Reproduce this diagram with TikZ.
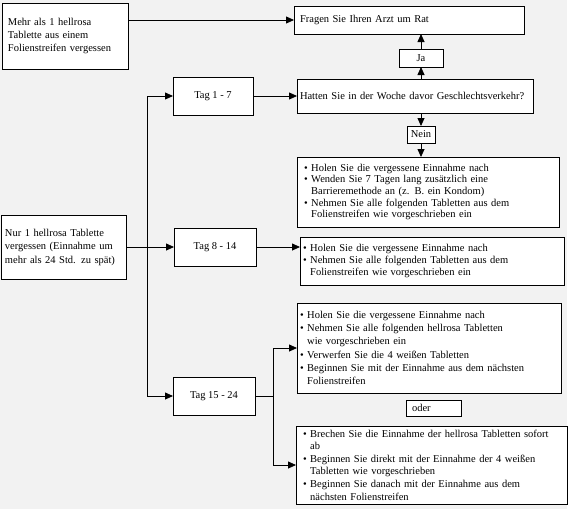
\documentclass[tikz,border=0pt]{standalone}
\usepackage{fontspec}
\setmainfont{Liberation Serif}
\usetikzlibrary{arrows.meta}
\definecolor{bggray}{HTML}{F2F2F2}
\newcommand{\dotitem}{\textbullet\ }
\newcommand{\dotcont}{\hphantom{\textbullet\ }}

\begin{document}
\begin{tikzpicture}[x=1pt, y=-1pt, line width=0.8pt,
	box/.style={draw, fill=white, inner sep=0pt, outer sep=0pt, font=\fontsize{10.5}{12}\selectfont},
	arr/.style={-{Triangle[length=8pt,width=7pt]}}]
	%\draw[help lines, gray!30] (0,0) grid[step=25] (575,525);
	\useasboundingbox (0,0) rectangle (575,525);
	\fill[bggray] (0,0) rectangle (567,509);
	
	% left column
	\node[box, align=left, text width=114pt, inner xsep=6pt, minimum height=66pt,
	font=\fontsize{10.5}{13}\selectfont] (mehr) at (65,36)
	{Mehr als 1 hellrosa\\ Tablette aus einem\\ Folienstreifen vergessen};
	\node[box, align=left, text width=117pt, inner xsep=4pt, minimum height=64pt,
	font=\fontsize{10.5}{13.5}\selectfont] (nur) at (63.5,247)
	{Nur 1 hellrosa Tablette\\ vergessen (Einnahme um\\ mehr als 24 Std. zu spät)};
	
	% Tag boxes
	\node[box, minimum width=80pt, minimum height=38pt] (tag1) at (213,96) {Tag 1 - 7};
	\node[box, minimum width=82pt, minimum height=38pt] (tag2) at (215,247) {Tag 8 - 14};
	\node[box, minimum width=82pt, minimum height=38pt] (tag3) at (214,396) {Tag 15 - 24};
	
	% right column
	\node[box, align=left, text width=218pt, inner xsep=6pt, minimum height=28pt] (fragen) at (409,20)
	{Fragen Sie Ihren Arzt um Rat};
	\node[box, minimum width=44pt, minimum height=18pt] (ja) at (421,58) {Ja};
	\node[box, align=left, text width=230pt, inner xsep=3pt, minimum height=34pt] (hatten) at (415,96)
	{Hatten Sie in der Woche davor Geschlechtsverkehr?};
	\node[box, minimum width=28pt, minimum height=17pt] (nein) at (421,134.5) {Nein};
	
	\node[box, align=left, text width=248pt, inner xsep=7pt, minimum height=70pt,
	font=\fontsize{10.5}{11.7}\selectfont] (opt1) at (428,192)
	{\dotitem Holen Sie die vergessene Einnahme nach\\
		\dotitem Wenden Sie 7 Tagen lang zusätzlich eine\\
		\dotcont Barrieremethode an (z. B. ein Kondom)\\
		\dotitem Nehmen Sie alle folgenden Tabletten aus dem\\
		\dotcont Folienstreifen wie vorgeschrieben ein};
	
	\node[box, align=left, text width=258pt, inner xsep=3pt, minimum height=48pt,
	font=\fontsize{10.5}{12}\selectfont] (opt2) at (432,261)
	{\dotitem Holen Sie die vergessene Einnahme nach\\
		\dotitem Nehmen Sie alle folgenden Tabletten aus dem\\
		\dotcont Folienstreifen wie vorgeschrieben ein\\[8pt]};
	
	\node[box, align=left, text width=258pt, inner xsep=3pt, minimum height=90pt,
	font=\fontsize{10.5}{13.3}\selectfont] (opt3) at (429,348)
	{\dotitem Holen Sie die vergessene Einnahme nach\\
		\dotitem Nehmen Sie alle folgenden hellrosa Tabletten\\
		\dotcont wie vorgeschrieben ein\\
		\dotitem Verwerfen Sie die 4 weißen Tabletten\\
		\dotitem Beginnen Sie mit der Einnahme aus dem nächsten\\
		\dotcont Folienstreifen\\[6pt]};
	
	\node[box, align=left, text width=43pt, inner xsep=6pt, minimum height=16pt] (oder) at (433.5,408) {oder};
	
	\node[box, align=left, text width=257pt, inner xsep=7pt, minimum height=78pt,
	font=\fontsize{10.5}{12.6}\selectfont] (opt4) at (431.5,465)
	{\dotitem Brechen Sie die Einnahme der hellrosa Tabletten sofort\\
		\dotcont ab\\
		\dotitem Beginnen Sie direkt mit der Einnahme der 4 weißen\\
		\dotcont Tabletten wie vorgeschrieben\\
		\dotitem Beginnen Sie danach mit der Einnahme aus dem\\
		\dotcont nächsten Folienstreifen};
	
	% connectors
	\draw[arr] (mehr.east |- fragen) -- (fragen);
	\draw[arr] (ja) -- (ja |- fragen.south);
	\draw[arr] (hatten.north -| ja) -- (ja);
	\draw[arr] (hatten.south -| nein) -- (nein);
	\draw[arr] (nein) -- (nein |- opt1.north);
	\draw[arr] (tag1) -- (hatten);
	
	\coordinate (split) at (147,247);
	\draw (nur) -- (split);
	\draw[arr] (split) |- (tag1);
	\draw[arr] (split) -- (tag2);
	\draw[arr] (split) |- (tag3);
	\draw[arr] (tag2) -- (tag2 -| opt2.west);
	
	\coordinate (fork) at (273,396);
	\draw (tag3) -- (fork);
	\draw[arr] (fork) |- (opt3);
	\draw[arr] (fork) |- (opt4);
	
\end{tikzpicture}
\end{document}
